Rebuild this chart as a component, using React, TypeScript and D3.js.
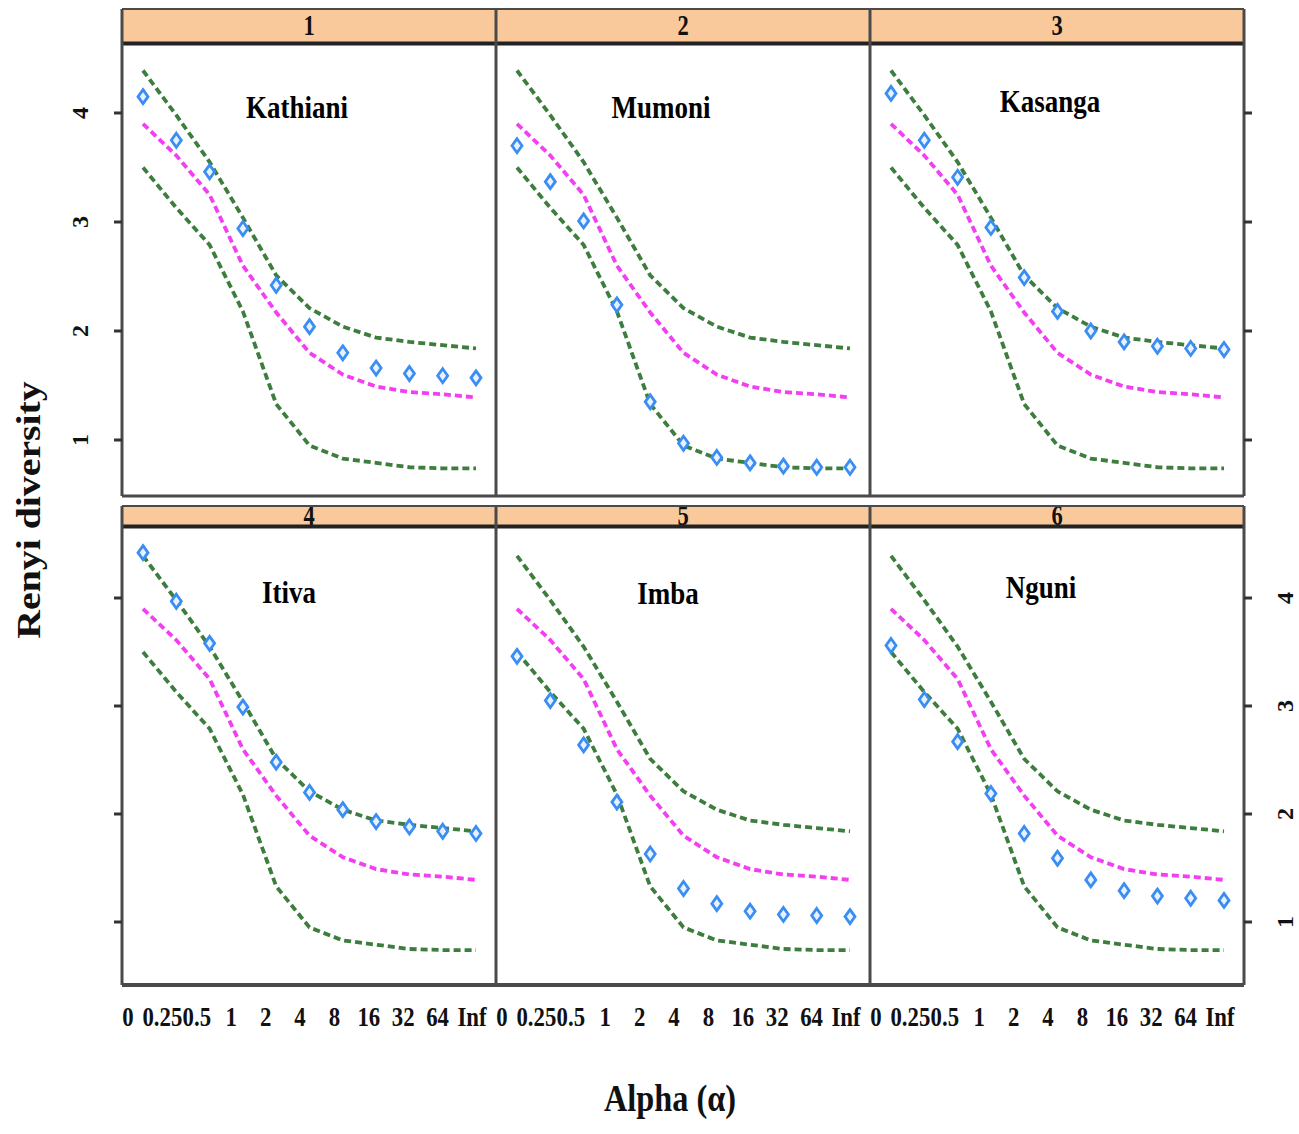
import React from 'react';
import * as d3 from 'd3';

// ---- data ----
const alphaLabels = ['0', '0.25', '0.5', '1', '2', '4', '8', '16', '32', '64', 'Inf'];
const stripLabels = ['1', '2', '3', '4', '5', '6'];
const siteNames = ['Kathiani', 'Mumoni', 'Kasanga', 'Itiva', 'Imba', 'Nguni'];
const yTicks = [1, 2, 3, 4];

// null-model envelope (same in every panel)
const upperEnv = [4.39, 3.98, 3.55, 3.04, 2.51, 2.21, 2.04, 1.94, 1.9, 1.87, 1.84];
const meanEnv = [3.9, 3.61, 3.25, 2.6, 2.17, 1.8, 1.6, 1.49, 1.44, 1.42, 1.39];
const lowerEnv = [3.5, 3.13, 2.79, 2.18, 1.33, 0.95, 0.83, 0.79, 0.75, 0.74, 0.74];

// observed Renyi diversity per site
const kathiani = [4.15, 3.75, 3.46, 2.94, 2.42, 2.04, 1.8, 1.66, 1.61, 1.59, 1.57];
const mumoni = [3.7, 3.37, 3.01, 2.24, 1.35, 0.97, 0.84, 0.79, 0.76, 0.75, 0.75];
const kasanga = [4.18, 3.75, 3.41, 2.95, 2.49, 2.18, 2.0, 1.9, 1.86, 1.84, 1.83];
const itiva = [4.42, 3.97, 3.58, 2.99, 2.48, 2.2, 2.04, 1.93, 1.88, 1.84, 1.82];
const imba = [3.46, 3.05, 2.64, 2.11, 1.63, 1.31, 1.17, 1.1, 1.07, 1.06, 1.05];
const nguni = [3.56, 3.06, 2.67, 2.19, 1.82, 1.59, 1.39, 1.29, 1.24, 1.22, 1.2];
const siteValues = [kathiani, mumoni, kasanga, itiva, imba, nguni];

// ---- layout / style ----
const W = 1299;
const H = 1134;
const colEdges = [122, 496, 870, 1244];
const labelDx = [-12, -22, -7, -20, -15, -16];
const labelBaseline = [118, 118, 112, 603, 604, 598];
const FONT = '"Liberation Serif", "Times New Roman", serif';
const GREEN = '#3d7d3d';
const MAGENTA = '#f23ff2';
const BLUE = '#3a8df2';
const BORDER = '#4a4a4a';
const STRIP = '#f9c99b';

export default function App() {
  const rows = [
    {
      stripTop: 9,
      stripBottom: 42,
      panelTop: 45,
      panelBottom: 496,
      textBase: 35,
      y: d3.scaleLinear().domain([1, 4]).range([440, 113]),
      labelSide: 'left',
    },
    {
      stripTop: 506,
      stripBottom: 525,
      panelTop: 528,
      panelBottom: 985,
      textBase: 525,
      y: d3.scaleLinear().domain([1, 4]).range([922, 598]),
      labelSide: 'right',
    },
  ];

  const panels: any[] = [];
  for (let r = 0; r < 2; r++) {
    for (let c = 0; c < 3; c++) {
      panels.push({ r, c, idx: r * 3 + c });
    }
  }

  const diamond = (cx: number, cy: number) =>
    `M${cx},${cy - 7}L${cx + 5},${cy}L${cx},${cy + 7}L${cx - 5},${cy}Z`;

  return (
    <svg
      width={W}
      height={H}
      style={{ position: 'absolute', left: 0, top: 0, background: '#fff' }}
      fontFamily={FONT}
    >
      <defs>
        {panels.map((p) => {
          const row = rows[p.r];
          const L = colEdges[p.c];
          const R = colEdges[p.c + 1];
          return (
            <React.Fragment key={'d' + p.idx}>
              <clipPath id={'pc' + p.idx}>
                <rect x={L} y={row.panelTop} width={R - L} height={row.panelBottom - row.panelTop} />
              </clipPath>
              <clipPath id={'sc' + p.idx}>
                <rect x={L} y={row.stripTop} width={R - L} height={row.stripBottom - row.stripTop} />
              </clipPath>
            </React.Fragment>
          );
        })}
      </defs>

      {panels.map((p) => {
        const row = rows[p.r];
        const L = colEdges[p.c];
        const R = colEdges[p.c + 1];
        const x = d3.scalePoint<string>().domain(alphaLabels).range([L + 21, L + 354]);
        const line = d3
          .line<number>()
          .x((_, i) => x(alphaLabels[i]) as number)
          .y((d) => row.y(d));
        const vals = siteValues[p.idx];
        return (
          <g key={'p' + p.idx}>
            {/* strip */}
            <rect
              x={L}
              y={row.stripTop}
              width={R - L}
              height={row.stripBottom - row.stripTop}
              fill={STRIP}
            />
            <g clipPath={`url(#sc${p.idx})`}>
              <text
                transform={`translate(${(L + R) / 2},${row.textBase}) scale(0.9,1.15)`}
                textAnchor="middle"
                fontWeight="bold"
                fontSize={25}
                fill="#111"
              >
                {stripLabels[p.idx]}
              </text>
            </g>
            <line x1={L} x2={R} y1={row.stripTop} y2={row.stripTop} stroke={BORDER} strokeWidth={2} />
            <line x1={L} x2={R} y1={row.stripBottom + 1.5} y2={row.stripBottom + 1.5} stroke="#222" strokeWidth={4} />

            {/* envelopes */}
            <g clipPath={`url(#pc${p.idx})`}>
              <path d={line(upperEnv) || ''} fill="none" stroke={GREEN} strokeWidth={3.8} strokeDasharray="7 4" />
              <path d={line(lowerEnv) || ''} fill="none" stroke={GREEN} strokeWidth={3.8} strokeDasharray="7 4" />
              <path d={line(meanEnv) || ''} fill="none" stroke={MAGENTA} strokeWidth={3.8} strokeDasharray="7 4" />
              {vals.map((v, i) => (
                <path
                  key={i}
                  d={diamond(x(alphaLabels[i]) as number, row.y(v))}
                  fill="#e8f2ff"
                  stroke={BLUE}
                  strokeWidth={2.8}
                />
              ))}
            </g>

            {/* site label */}
            <text
              transform={`translate(${(L + R) / 2 + labelDx[p.idx]},${labelBaseline[p.idx]}) scale(1,1.15)`}
              textAnchor="middle"
              fontWeight="bold"
              fontSize={27}
              fill="#000"
            >
              {siteNames[p.idx]}
            </text>
          </g>
        );
      })}

      {/* panel borders */}
      {rows.map((row, r) => (
        <g key={'b' + r}>
          {colEdges.map((cx, i) => (
            <line
              key={i}
              x1={cx}
              x2={cx}
              y1={row.stripTop}
              y2={row.panelBottom}
              stroke={BORDER}
              strokeWidth={3}
            />
          ))}
          <line
            x1={colEdges[0]}
            x2={colEdges[3]}
            y1={row.panelBottom}
            y2={row.panelBottom}
            stroke={BORDER}
            strokeWidth={r === 1 ? 4 : 3}
          />
        </g>
      ))}

      {/* y ticks */}
      {rows.map((row, r) => (
        <g key={'t' + r}>
          {yTicks.map((t) => (
            <g key={t}>
              <line
                x1={colEdges[0] - 8}
                x2={colEdges[0]}
                y1={row.y(t)}
                y2={row.y(t)}
                stroke="#333"
                strokeWidth={3}
              />
              <line
                x1={colEdges[3]}
                x2={colEdges[3] + 8}
                y1={row.y(t)}
                y2={row.y(t)}
                stroke="#333"
                strokeWidth={3}
              />
              <text
                transform={`translate(${row.labelSide === 'left' ? 80 : 1285},${row.y(t)}) rotate(-90)`}
                textAnchor="middle"
                dominantBaseline="central"
                fontWeight="bold"
                fontSize={24}
                fill="#111"
              >
                {t}
              </text>
            </g>
          ))}
        </g>
      ))}

      {/* x tick labels */}
      {[0, 1, 2].map((c) => {
        const L = colEdges[c];
        const xl = d3.scalePoint<string>().domain(alphaLabels).range([L + 6, L + 350]);
        return (
          <g key={'x' + c}>
            {alphaLabels.map((a) => (
              <text
                key={a}
                transform={`translate(${xl(a)},1026) scale(0.95,1.15)`}
                textAnchor="middle"
                fontWeight="bold"
                fontSize={24}
                fill="#111"
              >
                {a}
              </text>
            ))}
          </g>
        );
      })}

      {/* axis titles */}
      <text
        transform="translate(670,1111) scale(0.95,1.1)"
        textAnchor="middle"
        fontWeight="bold"
        fontSize={34}
        fill="#111"
      >
        Alpha (α)
      </text>
      <text
        transform="translate(29,510) rotate(-90) scale(1.17,1)"
        textAnchor="middle"
        dominantBaseline="central"
        fontWeight="bold"
        fontSize={34}
        fill="#111"
      >
        Renyi diversity
      </text>
    </svg>
  );
}
